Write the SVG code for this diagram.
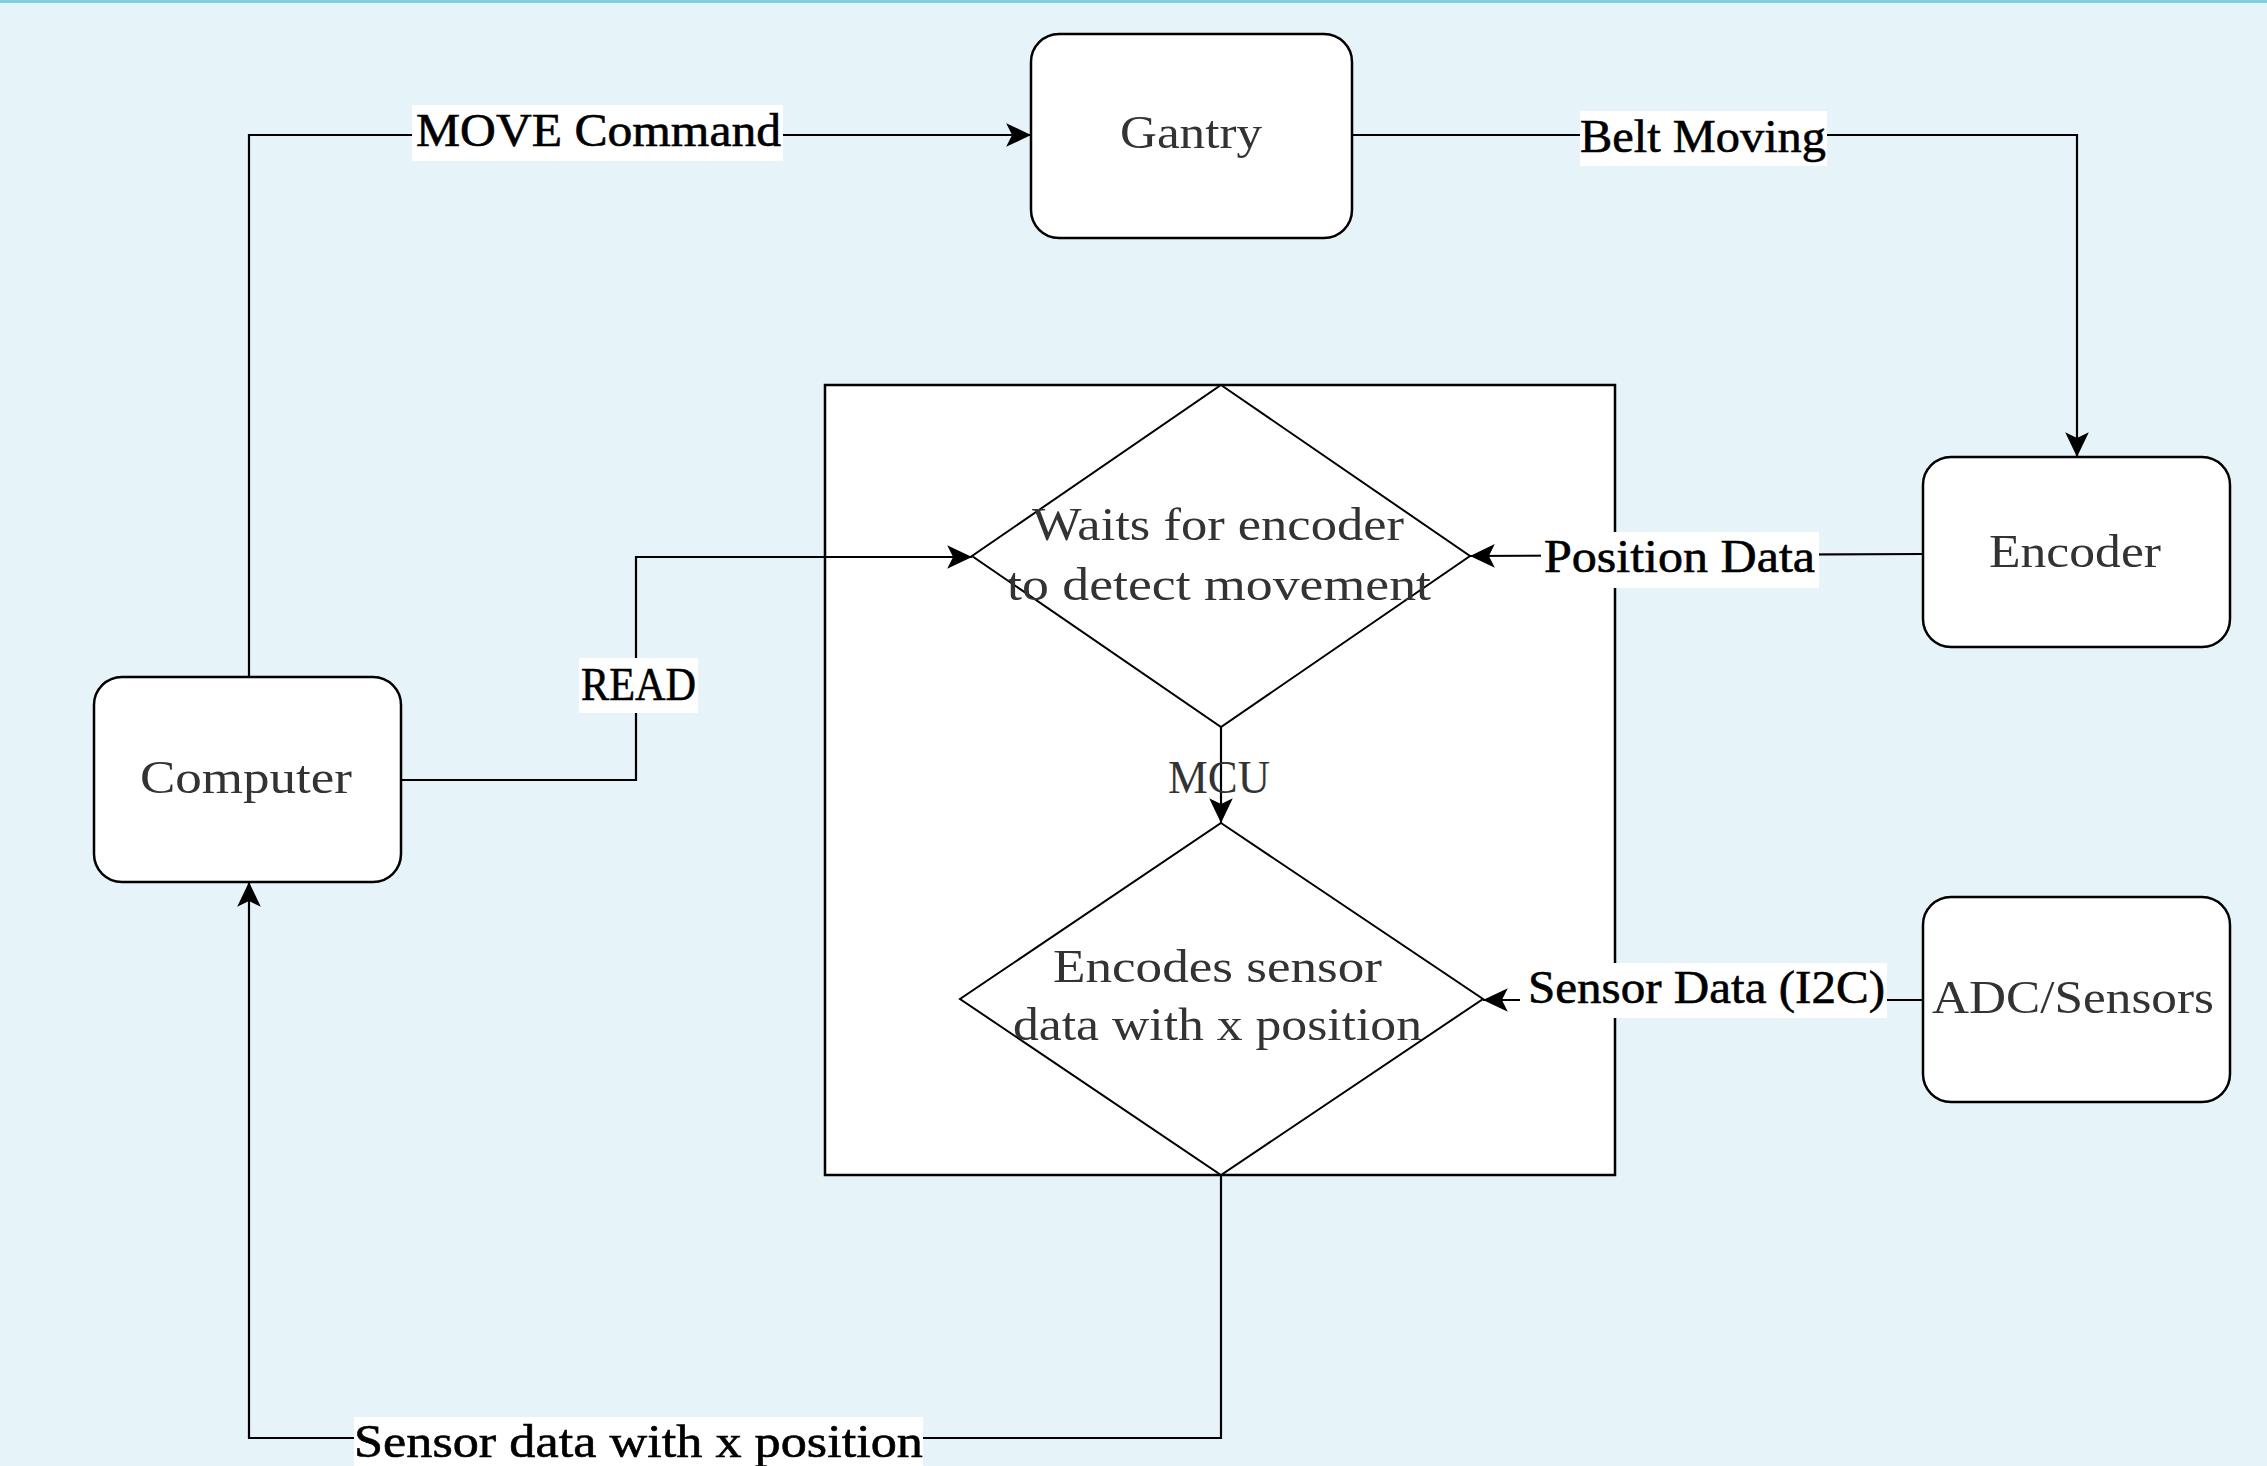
<svg xmlns="http://www.w3.org/2000/svg" width="2267" height="1466" viewBox="0 0 2267 1466">
<style>
.bg{fill:#e6f3f8}
.node{fill:#fff;stroke:#000;stroke-width:2.5}
.dia{fill:#fff;stroke:#000;stroke-width:2}
.edge{fill:none;stroke:#000;stroke-width:2.2}
.lblbg{fill:#fff}
.nt{font-family:"Liberation Serif","Times New Roman",serif;font-size:46px;fill:#333}
.lt{font-family:"Liberation Serif","Times New Roman",serif;font-size:46px;fill:#000;stroke:#000;stroke-width:0.6}
</style>
<defs>
<marker id="arr" markerUnits="userSpaceOnUse" markerWidth="26" markerHeight="26" viewBox="0 0 22 22" refX="21" refY="11" orient="auto">
<path d="M0,1 L21,11 L0,21 L5,11 Z" fill="#000"/>
</marker>
</defs>
<rect class="bg" x="0" y="0" width="2267" height="1466"/>
<rect x="0" y="0" width="2267" height="3" fill="#80ced8"/>

<g id="mcu-container">
<rect x="825" y="385" width="790" height="790" fill="#fff" stroke="#000" stroke-width="2.5"/>
</g>

<g id="wait-diamond">
<polygon class="dia" points="1221,385 1470,556 1221,727 972,556"/>
<text class="nt" x="1032" y="540" textLength="372" lengthAdjust="spacingAndGlyphs">Waits for encoder</text>
<text class="nt" x="1007" y="600" textLength="424" lengthAdjust="spacingAndGlyphs">to detect movement</text>
</g>

<g id="encode-diamond">
<polygon class="dia" points="1221,823 1483,999 1221,1175 960,999"/>
<text class="nt" x="1053" y="982" textLength="329" lengthAdjust="spacingAndGlyphs">Encodes sensor</text>
<text class="nt" x="1013" y="1040" textLength="409" lengthAdjust="spacingAndGlyphs">data with x position</text>
</g>

<g id="gantry">
<rect class="node" x="1031" y="34" width="321" height="204" rx="28" ry="28"/>
<text class="nt" x="1120" y="148" textLength="142" lengthAdjust="spacingAndGlyphs">Gantry</text>
</g>

<g id="computer">
<rect class="node" x="94" y="677" width="307" height="205" rx="28" ry="28"/>
<text class="nt" x="140" y="793" textLength="212" lengthAdjust="spacingAndGlyphs">Computer</text>
</g>

<g id="encoder">
<rect class="node" x="1923" y="457" width="307" height="190" rx="28" ry="28"/>
<text class="nt" x="1989" y="567" textLength="172" lengthAdjust="spacingAndGlyphs">Encoder</text>
</g>

<g id="adc-sensors">
<rect class="node" x="1923" y="897" width="307" height="205" rx="28" ry="28"/>
<text class="nt" x="1932" y="1013" textLength="282" lengthAdjust="spacingAndGlyphs">ADC/Sensors</text>
</g>

<g id="connectors">
<path class="edge" d="M249,677 L249,135 L1031,135" marker-end="url(#arr)"/>
<path class="edge" d="M1352,135 L2077,135 L2077,457" marker-end="url(#arr)"/>
<path class="edge" d="M1923,554 L1470,556" marker-end="url(#arr)"/>
<path class="edge" d="M401,780 L636,780 L636,557 L972,557" marker-end="url(#arr)"/>
<path class="edge" d="M1221,727 L1221,823" marker-end="url(#arr)"/>
<path class="edge" d="M1923,1000 L1483,1000" marker-end="url(#arr)"/>
<path class="edge" d="M1221,1175 L1221,1438 L249,1438 L249,882" marker-end="url(#arr)"/>

<rect class="lblbg" x="412" y="105" width="371" height="56"/>
<text class="lt" x="416" y="146" textLength="365" lengthAdjust="spacingAndGlyphs">MOVE Command</text>

<rect class="lblbg" x="1580" y="111" width="247" height="55"/>
<text class="lt" x="1580" y="152" textLength="246" lengthAdjust="spacingAndGlyphs">Belt Moving</text>

<rect class="lblbg" x="1541" y="532" width="278" height="56"/>
<text class="lt" x="1544" y="572" textLength="271" lengthAdjust="spacingAndGlyphs">Position Data</text>

<rect class="lblbg" x="579" y="658" width="119" height="55"/>
<text class="lt" x="581" y="700" textLength="115" lengthAdjust="spacingAndGlyphs">READ</text>

<text class="nt" x="1168" y="793" textLength="102" lengthAdjust="spacingAndGlyphs">MCU</text>

<rect class="lblbg" x="1520" y="963" width="367" height="55"/>
<text class="lt" x="1528" y="1003" textLength="357" lengthAdjust="spacingAndGlyphs">Sensor Data (I2C)</text>

<rect class="lblbg" x="354" y="1417" width="569" height="49"/>
<text class="lt" x="354" y="1457" textLength="569" lengthAdjust="spacingAndGlyphs">Sensor data with x position</text>
</g>
</svg>
